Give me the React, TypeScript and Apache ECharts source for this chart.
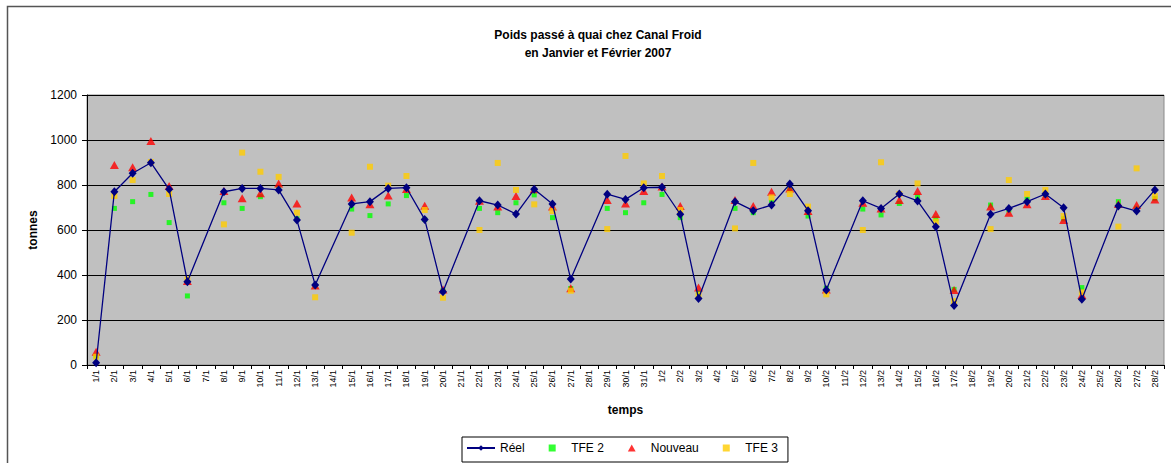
import React, { useEffect, useRef } from "react";
import * as echarts from "echarts";

const categories = [
  "1/1","2/1","3/1","4/1","5/1","6/1","7/1","8/1","9/1","10/1","11/1","12/1","13/1","14/1","15/1","16/1","17/1","18/1","19/1","20/1","21/1","22/1","23/1","24/1","25/1","26/1","27/1","28/1","29/1","30/1","31/1",
  "1/2","2/2","3/2","4/2","5/2","6/2","7/2","8/2","9/2","10/2","11/2","12/2","13/2","14/2","15/2","16/2","17/2","18/2","19/2","20/2","21/2","22/2","23/2","24/2","25/2","26/2","27/2","28/2",
];

const reel = [
  10, 770, 852, 899, 781, 370, null, 770, 785, 785, 778, 644, 356, null, 716, 726, 785, 788, 647, 326, null, 730, 711, 671, 781, 716, 382, null, 759, 736, 788,
  790, 670, 296, null, 726, 686, 711, 804, 686, 333, null, 730, 696, 760, 729, 615, 264, null, 670, 696, 726, 760, 699, 292, null, 707, 684, 778,
];

const tfe2 = [
  40, 696, 726, 758, 633, 307, null, 721, 696, 748, 785, 650, 350, null, 693, 664, 716, 753, 647, 330, null, 696, 677, 721, 756, 655, 340, null, 696, 677, 721,
  758, 655, 320, null, 696, 677, 723, 780, 662, 341, null, 693, 667, 718, 748, 650, 336, null, 711, 689, 738, 755, 650, 344, null, 726, 696, 740,
];

const nouveau = [
  59, 889, 879, 996, 796, 373, null, 773, 741, 763, 807, 718, 353, null, 745, 714, 753, 782, 708, 336, null, 730, 704, 751, 781, 704, 341, null, 733, 718, 773,
  793, 707, 344, null, 733, 707, 770, 785, 684, 336, null, 721, 696, 733, 773, 671, 333, null, 704, 677, 714, 751, 644, 311, null, 716, 711, 736,
];

const tfe3 = [
  37, 751, 822, 902, 760, 381, null, 625, 944, 859, 836, 677, 301, null, 588, 881, 797, 840, 689, 299, null, 600, 898, 778, 714, 684, 330, null, 604, 929, 807,
  840, 689, 311, null, 607, 898, 745, 760, 704, 314, null, 600, 901, 760, 807, 637, 284, null, 604, 822, 760, 778, 662, 323, null, 615, 874, 751,
];

const FONT = "Arial, 'Liberation Sans', sans-serif";
const SQUARE = "path://M0,0L10,0L10,10L0,10Z";
const TRIANGLE = "path://M5,0L10,9L0,9Z";

export default function App() {
  const ref = useRef<HTMLDivElement>(null);
  useEffect(() => {
    if (!ref.current) return;
    const chart = echarts.init(ref.current, undefined, { renderer: "svg" });
    chart.setOption({
      animation: false,
      backgroundColor: "#ffffff",
      textStyle: { fontFamily: FONT },
      title: {
        text: "Poids passé à quai chez Canal Froid\nen Janvier et Février 2007",
        left: 593,
        top: 21,
        textAlign: "center",
        textStyle: { fontFamily: FONT, fontSize: 12, fontWeight: "bold", color: "#000", lineHeight: 18 },
      },
      graphic: [
        {
          type: "rect",
          shape: { x: 7.5, y: 6.5, width: 1300, height: 600 },
          style: { fill: "none", stroke: "#555", lineWidth: 1.5 },
          silent: true,
          z: -10,
        },
      ],
      legend: {
        left: 462,
        top: 437,
        padding: [5, 10, 8, 4],
        itemGap: 24,
        itemWidth: 28,
        itemHeight: 7,
        symbolKeepAspect: true,
        borderColor: "#000",
        borderWidth: 1,
        textStyle: { fontFamily: FONT, fontSize: 12, color: "#000" },
        data: [
          { name: "Réel" },
          { name: "TFE 2", icon: SQUARE, itemStyle: { color: "#00ff00" } },
          { name: "Nouveau", icon: TRIANGLE, itemStyle: { color: "#ff0000" } },
          { name: "TFE 3", icon: SQUARE, itemStyle: { color: "#ffcc00" } },
        ],
      },
      grid: {
        left: 87,
        right: 7,
        top: 95,
        bottom: 98,
        show: true,
        backgroundColor: "#c0c0c0",
        borderColor: "#8a8a8a",
        borderWidth: 1,
      },
      xAxis: {
        type: "category",
        data: categories,
        boundaryGap: true,
        name: "temps",
        nameLocation: "middle",
        nameGap: 39,
        nameTextStyle: { fontFamily: FONT, fontSize: 12, fontWeight: "bold", color: "#000" },
        axisLine: { show: true, lineStyle: { color: "#000", width: 1 } },
        axisTick: { show: true, length: 4, lineStyle: { color: "#000" } },
        axisLabel: { interval: 0, rotate: 90, fontSize: 9, color: "#000", margin: 5, fontFamily: FONT },
        splitLine: { show: false },
      },
      yAxis: {
        type: "value",
        min: 0,
        max: 1200,
        interval: 200,
        name: "tonnes",
        nameLocation: "middle",
        nameGap: 48,
        nameTextStyle: { fontFamily: FONT, fontSize: 12, fontWeight: "bold", color: "#000" },
        axisLine: { show: true, lineStyle: { color: "#000", width: 1 } },
        axisTick: { show: true, length: 5, lineStyle: { color: "#000" } },
        axisLabel: { fontSize: 12, color: "#000", margin: 10, fontFamily: FONT, formatter: (v: number) => String(v) },
        splitLine: { show: true, lineStyle: { color: "#000", width: 1 } },
      },
      series: [
        {
          name: "Réel",
          type: "line",
          data: reel,
          connectNulls: true,
          symbol: "diamond",
          symbolSize: [8, 9],
          lineStyle: { color: "#000080", width: 1.3 },
          itemStyle: { color: "#000080" },
        },
        {
          name: "TFE 2",
          type: "scatter",
          data: tfe2,
          symbol: "rect",
          symbolSize: 5,
          itemStyle: { color: "#00ff00" },
        },
        {
          name: "Nouveau",
          type: "scatter",
          data: nouveau,
          symbol: "triangle",
          symbolSize: [9, 8],
          itemStyle: { color: "#ff0000" },
        },
        {
          name: "TFE 3",
          type: "scatter",
          data: tfe3,
          symbol: "rect",
          symbolSize: 6,
          itemStyle: { color: "#ffcc00" },
        },
      ],
    });
    return () => chart.dispose();
  }, []);
  return <div ref={ref} style={{ position: "fixed", left: 0, top: 0, width: 1171, height: 463 }} />;
}
